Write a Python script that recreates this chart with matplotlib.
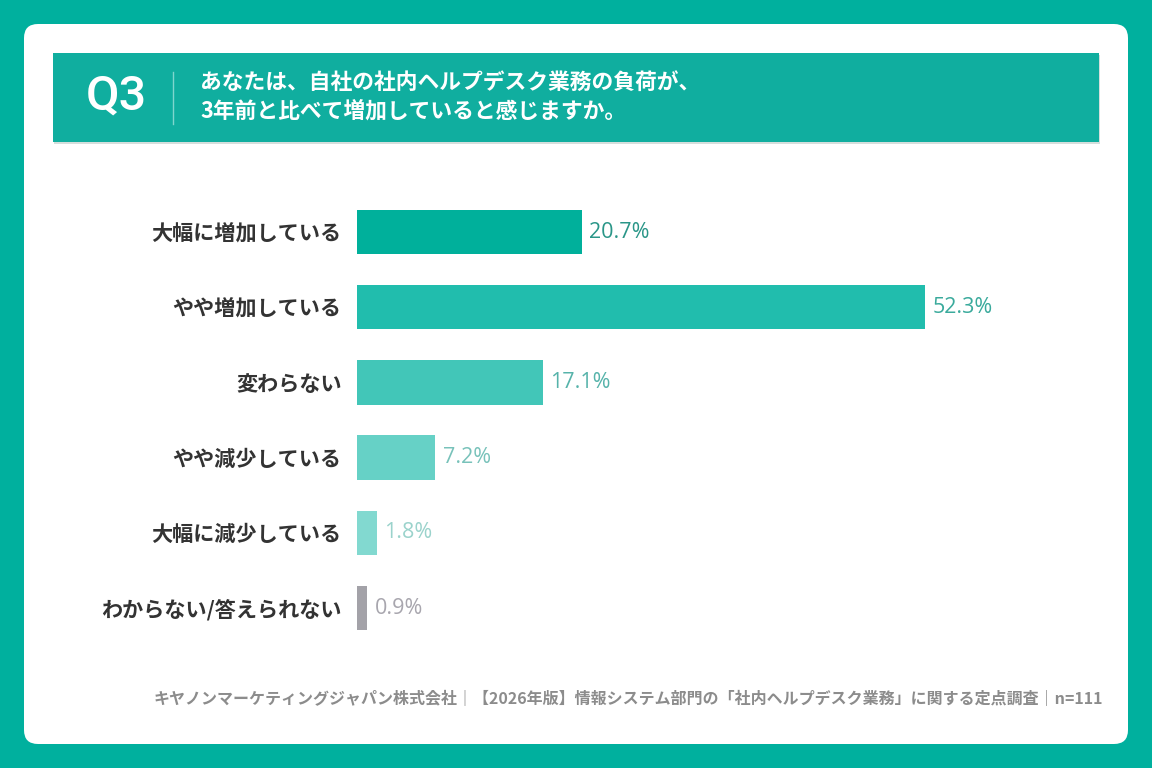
import matplotlib
matplotlib.use("Agg")
import matplotlib.pyplot as plt
from matplotlib.patches import FancyBboxPatch, Rectangle

plt.rcParams["font.family"] = ["Noto Sans CJK JP", "DejaVu Sans"]

categories = ["大幅に増加している", "やや増加している", "変わらない",
              "やや減少している", "大幅に減少している", "わからない/答えられない"]
values = [20.7, 52.3, 17.1, 7.2, 1.8, 0.9]
bar_colors = ["#00B09B", "#21BDAD", "#42C6B8", "#66D1C6", "#82D9D0", "#A3A2A8"]
label_colors = ["#2A9688", "#3AAA9C", "#56B3AA", "#78C2BA", "#9BD3CC", "#A8A6AE"]

question = "あなたは、自社の社内ヘルプデスク業務の負荷が、\n3年前と比べて増加していると感じますか。"
footer = "キヤノンマーケティングジャパン株式会社｜【2026年版】情報システム部門の「社内ヘルプデスク業務」に関する定点調査｜n=111"

W, H = 1152, 768
fig = plt.figure(figsize=(W / 100, H / 100), dpi=100)
fig.patch.set_facecolor("#00B09E")

# background layer in pixel coordinates
bg = fig.add_axes([0, 0, 1, 1], zorder=0)
bg.set_xlim(0, W)
bg.set_ylim(H, 0)
bg.axis("off")
bg.add_patch(FancyBboxPatch((24, 24), W - 48, H - 48,
                            boxstyle="round,pad=0,rounding_size=14",
                            facecolor="white", edgecolor="none"))
# header band with a soft shadow
bg.add_patch(Rectangle((54, 55), 1046, 89, facecolor="#D5DEDC", edgecolor="none"))
bg.add_patch(Rectangle((53, 53), 1046, 89, facecolor="#10AE9F", edgecolor="none"))
bg.text(116, 97, "Q3", color="white", fontsize=35, fontweight="medium",
        ha="center", va="center", family=["Roboto", "DejaVu Sans"])
bg.plot([173, 173], [72, 124], color="#7FD6CD", lw=1)
bg.text(200, 97, question, color="white", fontsize=15.7, fontweight="bold",
        ha="left", va="center", linespacing=1.3)
bg.text(1103, 699, footer, color="#8C8C8C", fontsize=11.5, fontweight="bold",
        ha="right", va="center")

# bar chart
px = 10.86  # pixels per percent
left, right = 357, 357 + 60 * px
top, bottom = 232 - 37.6, 608 + 37.6
ax = fig.add_axes([left / W, 1 - bottom / H, (right - left) / W, (bottom - top) / H],
                  zorder=1)
ax.patch.set_alpha(0)
ypos = list(range(len(categories)))
ax.barh(ypos, values, height=0.59, color=bar_colors)
ax.set_xlim(0, 60)
ax.set_ylim(len(categories) - 0.5, -0.5)
ax.set_yticks(ypos)
ax.set_yticklabels(categories, fontsize=15.2, fontweight="bold", color="#333333")
ax.tick_params(axis="y", length=0, pad=11)
ax.set_xticks([])
for s in ax.spines.values():
    s.set_visible(False)
for y, v, c in zip(ypos, values, label_colors):
    ax.text(v + 0.7, y, f"{v:.1f}%", color=c, fontsize=15.5, va="center", ha="left",
            family=["Open Sans", "DejaVu Sans"])

fig.savefig("out.png", dpi=100, facecolor=fig.get_facecolor())
